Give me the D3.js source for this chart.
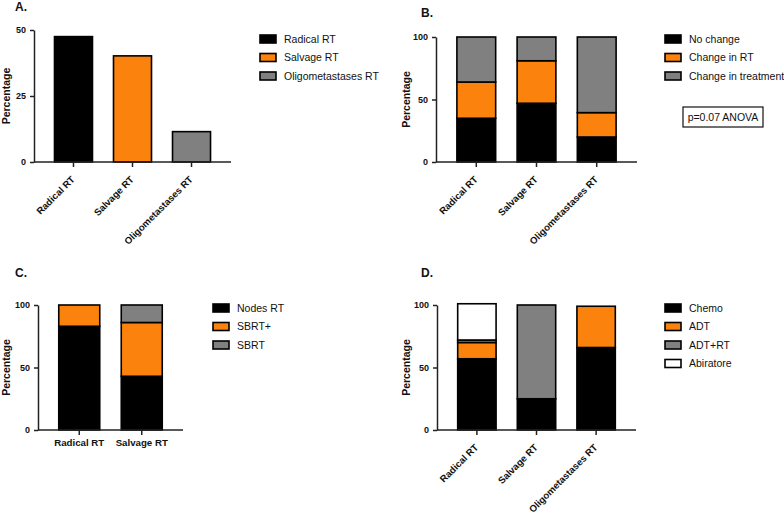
<!DOCTYPE html>
<html>
<head>
<meta charset="utf-8">
<script src="https://cdn.jsdelivr.net/npm/d3@7"></script>
<style>
  body { margin: 0; background: #fff; }
  svg, svg text { font-family: "Liberation Sans", Arial, sans-serif; }
  .axis path, .axis line { stroke: #222; stroke-width: 1.5px; }
  .axis text { font-weight: bold; fill: #111; }
</style>
</head>
<body>
<div id="chart"></div>
<script>
// groups
var groups3 = ["Radical RT", "Salvage RT", "Oligometastases RT"];
var groups2 = ["Radical RT", "Salvage RT"];

// A. share of patients per group
var shareA = [47.5, 40.2, 11.5];

// B. change after PET
var seriesB = ["No change", "Change in RT", "Change in treatment"];
var noChange = [35, 47, 20];
var changeRT = [29, 34, 19.5];
var changeTreat = [36, 19, 60.5];

// C. type of RT
var seriesC = ["Nodes RT", "SBRT+", "SBRT"];
var nodesRT = [83, 43];
var sbrtPlus = [17, 43];
var sbrt = [0, 14];

// D. treatment change
var seriesD = ["Chemo", "ADT", "ADT+RT", "Abiratore"];
var chemo = [57, 25, 66];
var adt = [13, 0, 33];
var adtRT = [2, 75, 0];
var abiratore = [29, 0, 0];

var ticksA = [0, 25, 50];
var ticks100 = [0, 50, 100];

var colors = ["#000000", "#fb820c", "#808080", "#ffffff"];

var svg = d3.select("#chart").append("svg")
    .attr("width", 784).attr("height", 512);

function axes(g, x, y, cfg) {
  g.append("g").attr("class", "axis")
      .attr("transform", "translate(" + cfg.left + ",0)")
      .call(d3.axisLeft(y).tickValues(cfg.ticks).tickSize(4).tickSizeOuter(0))
      .selectAll("text").style("font-size", "9px").attr("dx", "-1px");

  var xa = g.append("g").attr("class", "axis")
      .attr("transform", "translate(0," + cfg.bottom + ")")
      .call(d3.axisBottom(x).tickSize(5).tickSizeOuter(0));
  xa.select(".domain").attr("d", "M" + cfg.left + ",0H" + cfg.right);

  if (cfg.rotate) {
    xa.selectAll("text")
      .style("font-size", "9.6px")
      .style("text-anchor", "end")
      .attr("x", 0).attr("y", 0).attr("dy", 0)
      .attr("transform", "translate(2,18) rotate(-45)");
  } else {
    xa.selectAll("text").style("font-size", "9.7px").attr("y", 8).attr("dy", "0.8em");
  }

  g.append("text")
      .attr("transform", "translate(" + cfg.ylabX + "," + ((cfg.top + cfg.bottom) / 2) + ") rotate(-90)")
      .style("text-anchor", "middle").style("font-weight", "bold")
      .style("font-size", "10.5px").style("fill", "#111")
      .text("Percentage");

  g.append("text").attr("x", cfg.titleX).attr("y", cfg.titleY)
      .style("font-weight", "bold").style("font-size", "12px").style("fill", "#111")
      .text(cfg.title);

  var lg = g.append("g").attr("transform", "translate(" + cfg.legX + "," + cfg.legY + ")");
  var items = lg.selectAll("g").data(cfg.legend).enter().append("g")
      .attr("transform", function(d, i) { return "translate(0," + (i * 18.5) + ")"; });
  items.append("rect").attr("x", 0).attr("y", -4).attr("width", 16).attr("height", 8)
      .style("fill", function(d, i) { return colors[i]; })
      .style("stroke", "#000").style("stroke-width", 1.6);
  items.append("text").attr("x", 24).attr("y", 0).attr("dy", "0.36em")
      .style("font-size", "10.5px").style("fill", "#111")
      .text(function(d) { return d; });
}

function stackedPanel(cfg) {
  var g = svg.append("g");
  var x = d3.scaleBand().domain(cfg.groups)
      .range([cfg.left, cfg.right])
      .paddingInner(cfg.padIn).paddingOuter(cfg.padOut);
  var y = d3.scaleLinear().domain([0, cfg.ticks[cfg.ticks.length - 1]])
      .range([cfg.bottom, cfg.top]);

  var keys = cfg.values.map(function(s, i) { return "k" + i; });
  var rows = cfg.groups.map(function(gr, j) {
    var r = { group: gr };
    cfg.values.forEach(function(arr, i) { r["k" + i] = arr[j]; });
    return r;
  });
  var stacked = d3.stack().keys(keys)(rows);

  stacked.forEach(function(layer, i) {
    g.selectAll(null).data(layer.filter(function(d) { return d[1] > d[0]; }))
      .enter().append("rect")
      .attr("x", function(d) { return x(d.data.group); })
      .attr("width", x.bandwidth())
      .attr("y", function(d) { return y(d[1]); })
      .attr("height", function(d) { return y(d[0]) - y(d[1]); })
      .style("fill", colors[i])
      .style("stroke", "#000").style("stroke-width", 1.6);
  });

  axes(g, x, y, cfg);
  return g;
}

// A: one bar per group, coloured like its legend entry
(function() {
  var cfg = {
    groups: groups3, left: 34, right: 231, top: 30, bottom: 162,
    ticks: ticksA, rotate: true, ylabX: 10, title: "A.", titleX: 15, titleY: 11,
    legend: groups3, legX: 260, legY: 39
  };
  var g = svg.append("g");
  var x = d3.scaleBand().domain(groups3).range([cfg.left, cfg.right])
      .paddingInner(0.356).paddingOuter(0.347);
  var y = d3.scaleLinear().domain([0, 50]).range([cfg.bottom, cfg.top]);

  g.selectAll(null).data(groups3).enter().append("rect")
    .attr("x", function(d) { return x(d); })
    .attr("width", x.bandwidth())
    .attr("y", function(d, i) { return y(shareA[i]); })
    .attr("height", function(d, i) { return y(0) - y(shareA[i]); })
    .style("fill", function(d, i) { return colors[i]; })
    .style("stroke", "#000").style("stroke-width", 1.6);

  axes(g, x, y, cfg);
})();

var gB = stackedPanel({
  groups: groups3, values: [noChange, changeRT, changeTreat],
  left: 436, right: 637, top: 37, bottom: 162, padIn: 0.356, padOut: 0.347,
  ticks: ticks100, rotate: true, ylabX: 410, title: "B.", titleX: 421, titleY: 17,
  legend: seriesB, legX: 665, legY: 39
});

// p-value box
gB.append("rect").attr("x", 683).attr("y", 107).attr("width", 80).attr("height", 20)
  .style("fill", "#fff").style("stroke", "#111").style("stroke-width", 1.2);
gB.append("text").attr("x", 723).attr("y", 117).attr("dy", "0.36em")
  .style("text-anchor", "middle").style("font-size", "10.5px").style("fill", "#111")
  .text("p=0.07 ANOVA");

stackedPanel({
  groups: groups2, values: [nodesRT, sbrtPlus, sbrt],
  left: 38, right: 183, top: 305, bottom: 430, padIn: 0.344, padOut: 0.332,
  ticks: ticks100, rotate: false, ylabX: 10, title: "C.", titleX: 15, titleY: 277,
  legend: seriesC, legX: 213, legY: 308
});

stackedPanel({
  groups: groups3, values: [chemo, adt, adtRT, abiratore],
  left: 437, right: 636, top: 305, bottom: 430, padIn: 0.356, padOut: 0.347,
  ticks: ticks100, rotate: true, ylabX: 410, title: "D.", titleX: 421, titleY: 277,
  legend: seriesD, legX: 665, legY: 308
});
</script>
</body>
</html>
